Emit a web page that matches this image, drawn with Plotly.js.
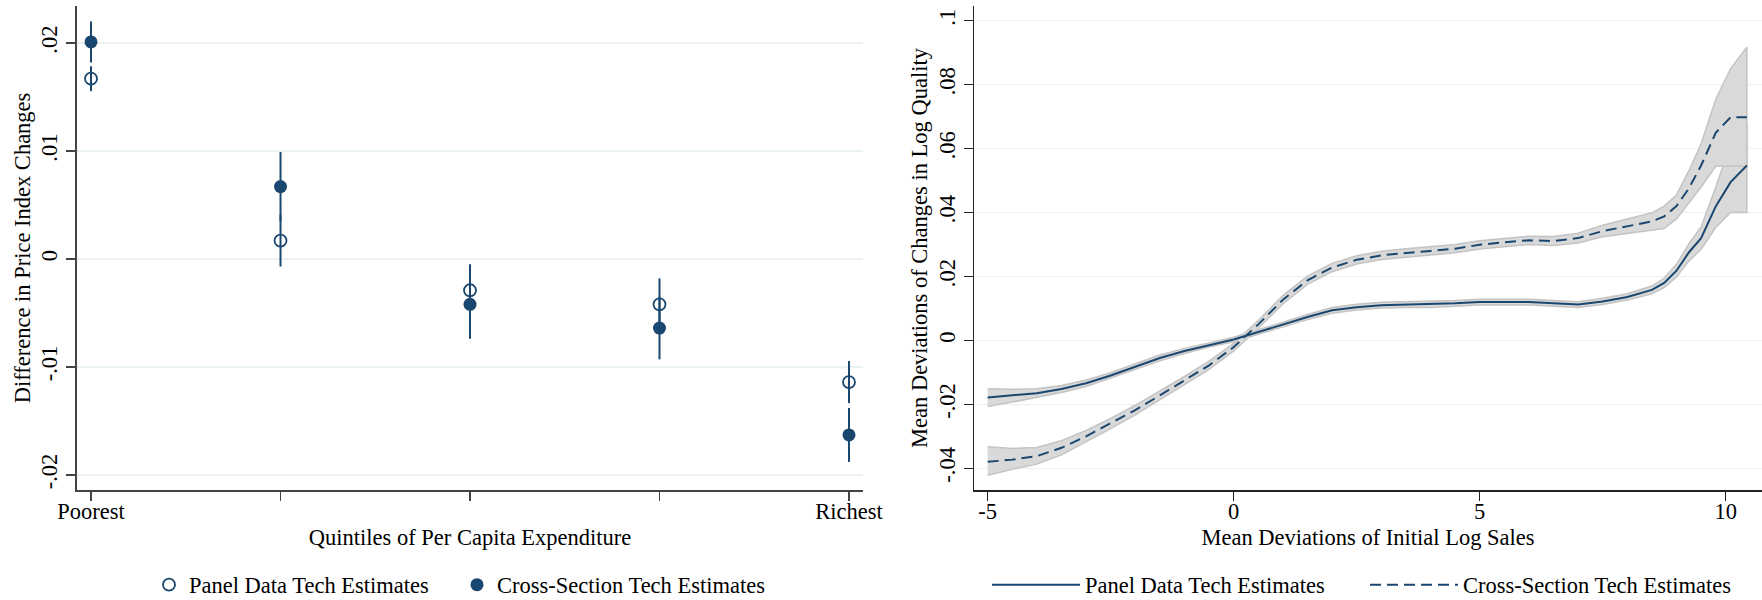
<!DOCTYPE html>
<html>
<head>
<meta charset="utf-8">
<script src="https://cdn.plot.ly/plotly-3.0.1.min.js"></script>
<style>html,body{margin:0;padding:0;background:#fff;}#chart{width:1762px;height:600px;}</style>
</head>
<body>
<div id="chart"></div>
<script>
// ---- Left panel: quintile estimates ----
const quintiles = [1, 2, 3, 4, 5];
const quintileLabels = ['Poorest', '', '', '', 'Richest'];
const panelEst = [0.0167, 0.0017, -0.0029, -0.0042, -0.0114];
const panelCI  = [0.00115, 0.0024, 0.0024, 0.0024, 0.00195];
const csEst    = [0.0201, 0.0067, -0.0042, -0.0064, -0.0163];
const csCI     = [0.0019, 0.0032, 0.0032, 0.0029, 0.0025];
const leftYTicks = [-0.02, -0.01, 0, 0.01, 0.02];
const leftYLabels = ['-.02', '-.01', '0', '.01', '.02'];

// ---- Right panel: smoothed curves ----
const salesX = [-5,-4.5,-4,-3.5,-3,-2.5,-2,-1.5,-1,-0.5,0,0.5,1,1.5,2,2.5,3,3.5,4,4.5,5,5.5,6,6.5,7,7.5,8,8.5,8.75,9,9.25,9.5,9.8,10.1,10.43];
const panelMean = [-0.0179,-0.0173,-0.0165,-0.0152,-0.0134,-0.0110,-0.0082,-0.0055,-0.0033,-0.0014,0.0003,0.0026,0.0050,0.0073,0.0094,0.0104,0.0110,0.0112,0.0112,0.0116,0.0120,0.0120,0.0120,0.0116,0.0112,0.0122,0.0136,0.0158,0.0180,0.0218,0.0275,0.0320,0.0420,0.0495,0.0547];
const panelLo = [-0.0207,-0.0193,-0.0179,-0.0163,-0.0144,-0.0119,-0.0091,-0.0064,-0.0041,-0.0021,-0.0004,0.0019,0.0042,0.0065,0.0085,0.0095,0.0101,0.0103,0.0103,0.0107,0.0111,0.0111,0.0111,0.0107,0.0103,0.0112,0.0126,0.0146,0.0165,0.0198,0.0248,0.0285,0.0354,0.0400,0.0400];
const panelHi = [-0.0151,-0.0153,-0.0151,-0.0141,-0.0124,-0.0101,-0.0073,-0.0046,-0.0025,-0.0007,0.0010,0.0033,0.0058,0.0081,0.0103,0.0113,0.0119,0.0121,0.0121,0.0125,0.0129,0.0129,0.0129,0.0125,0.0121,0.0132,0.0146,0.0170,0.0195,0.0238,0.0302,0.0355,0.0480,0.0615,0.0680];
const csMean = [-0.0380,-0.0373,-0.0362,-0.0336,-0.0300,-0.0260,-0.0218,-0.0172,-0.0126,-0.0078,-0.0021,0.0050,0.0127,0.0188,0.0228,0.0252,0.0266,0.0274,0.0280,0.0287,0.0299,0.0307,0.0313,0.0311,0.0320,0.0342,0.0357,0.0372,0.0388,0.0420,0.0475,0.0547,0.0650,0.0698,0.0698];
const csLo = [-0.0422,-0.0403,-0.0387,-0.0358,-0.0318,-0.0276,-0.0233,-0.0186,-0.0139,-0.0091,-0.0033,0.0038,0.0114,0.0175,0.0215,0.0239,0.0253,0.0261,0.0267,0.0274,0.0286,0.0294,0.0300,0.0297,0.0305,0.0324,0.0335,0.0345,0.0350,0.0380,0.0430,0.0480,0.0545,0.0545,0.0545];
const csHi = [-0.0333,-0.0338,-0.0335,-0.0314,-0.0282,-0.0244,-0.0203,-0.0158,-0.0113,-0.0065,-0.0009,0.0062,0.0140,0.0201,0.0241,0.0265,0.0279,0.0287,0.0293,0.0300,0.0312,0.0320,0.0326,0.0325,0.0335,0.0360,0.0379,0.0399,0.0420,0.0455,0.0530,0.0615,0.0755,0.0850,0.0917];
const rightYTicks = [-0.04, -0.02, 0, 0.02, 0.04, 0.06, 0.08, 0.1];
const rightYLabels = ['-.04', '-.02', '0', '.02', '.04', '.06', '.08', '.1'];
const rightXTicks = [-5, 0, 5, 10];
const rightXLabels = ['-5', '0', '5', '10'];

const NAVY = '#1a476f';
const FONT = 'Liberation Serif, Times New Roman, serif';
const FS = 22.5;
const GRID = '#e9f1f3';

function band(lo, hi) {
  return {
    x: salesX.concat(salesX.slice().reverse()),
    y: hi.concat(lo.slice().reverse()),
    xaxis: 'x2', yaxis: 'y2', type: 'scatter', mode: 'lines',
    fill: 'toself', fillcolor: 'rgb(217,217,217)',
    line: {color: 'rgb(196,196,196)', width: 1.5},
    hoverinfo: 'skip', showlegend: false
  };
}

const traces = [
  {
    x: quintiles, y: panelEst, type: 'scatter', mode: 'markers',
    name: 'Panel Data Tech Estimates',
    marker: {symbol: 'circle-open', size: 12, color: NAVY, line: {width: 1.8, color: NAVY}},
    error_y: {type: 'data', array: panelCI, symmetric: true, thickness: 2, width: 0, color: NAVY},
    legend: 'legend'
  },
  {
    x: quintiles, y: csEst, type: 'scatter', mode: 'markers',
    name: 'Cross-Section Tech Estimates',
    marker: {symbol: 'circle', size: 13, color: NAVY},
    error_y: {type: 'data', array: csCI, symmetric: true, thickness: 2, width: 0, color: NAVY},
    legend: 'legend'
  },
  band(panelLo, panelHi),
  band(csLo, csHi),
  {
    x: salesX, y: panelMean, xaxis: 'x2', yaxis: 'y2', type: 'scatter', mode: 'lines',
    name: 'Panel Data Tech Estimates',
    line: {color: NAVY, width: 2},
    legend: 'legend2'
  },
  {
    x: salesX, y: csMean, xaxis: 'x2', yaxis: 'y2', type: 'scatter', mode: 'lines',
    name: 'Cross-Section Tech Estimates',
    line: {color: NAVY, width: 2, dash: '11px,6px'},
    legend: 'legend2'
  }
];

const axFont = {family: FONT, size: FS, color: '#000'};

const layout = {
  width: 1762, height: 600,
  margin: {l: 0, r: 0, t: 0, b: 0, autoexpand: false},
  paper_bgcolor: '#fff', plot_bgcolor: '#fff',
  font: axFont,
  showlegend: true,
  xaxis: {
    domain: [77/1762, 863/1762], range: [0.926, 5.074],
    tickvals: quintiles, ticktext: quintileLabels,
    ticks: 'outside', ticklen: 9, tickwidth: 1.5, tickcolor: '#444', ticklabelstandoff: -9,
    showline: true, linecolor: '#444', linewidth: 2,
    showgrid: false, zeroline: false, tickfont: axFont,
    title: {text: 'Quintiles of Per Capita Expenditure', font: axFont, standoff: 6},
    anchor: 'y'
  },
  yaxis: {
    domain: [1 - 490/600, 1 - 6/600], range: [-0.0214, 0.02343],
    tickvals: leftYTicks, ticktext: leftYLabels, tickangle: -90,
    ticks: 'outside', ticklen: 9, tickwidth: 1.5, tickcolor: '#444',
    showline: true, linecolor: '#444', linewidth: 2,
    showgrid: true, gridcolor: GRID, gridwidth: 1.5, zeroline: false, tickfont: axFont,
    title: {text: 'Difference in Price Index Changes', font: axFont, standoff: 0},
    anchor: 'x'
  },
  xaxis2: {
    domain: [974/1762, 1], range: [-5.278, 10.738],
    tickvals: rightXTicks, ticktext: rightXLabels,
    ticks: 'outside', ticklen: 9, tickwidth: 1.5, tickcolor: '#222', ticklabelstandoff: -9,
    showline: true, linecolor: '#222', linewidth: 1.5,
    showgrid: false, zeroline: false, tickfont: axFont,
    title: {text: 'Mean Deviations of Initial Log Sales', font: axFont, standoff: 6},
    anchor: 'y2'
  },
  yaxis2: {
    domain: [1 - 490/600, 1 - 6/600], range: [-0.0468, 0.1046],
    tickvals: rightYTicks, ticktext: rightYLabels, tickangle: -90,
    ticks: 'outside', ticklen: 9, tickwidth: 1.5, tickcolor: '#222',
    showline: true, linecolor: '#222', linewidth: 1.5,
    showgrid: true, gridcolor: GRID, gridwidth: 1.5, zeroline: false, tickfont: axFont,
    title: {text: 'Mean Deviations of Changes in Log Quality', font: axFont, standoff: 0},
    anchor: 'x2'
  },
  legend: {
    orientation: 'h', x: 149/1762, xanchor: 'left', y: 15/600, yanchor: 'middle',
    font: axFont, bgcolor: 'rgba(0,0,0,0)', borderwidth: 0, traceorder: 'normal',
    entrywidth: 263, entrywidthmode: 'pixels'
  },
  legend2: {
    orientation: 'h', x: 987/1762, xanchor: 'left', y: 15/600, yanchor: 'middle',
    font: axFont, bgcolor: 'rgba(0,0,0,0)', borderwidth: 0, itemwidth: 88, traceorder: 'normal',
    entrywidth: 275, entrywidthmode: 'pixels'
  }
};

Plotly.newPlot('chart', traces, layout, {staticPlot: true, displayModeBar: false});
</script>
</body>
</html>
